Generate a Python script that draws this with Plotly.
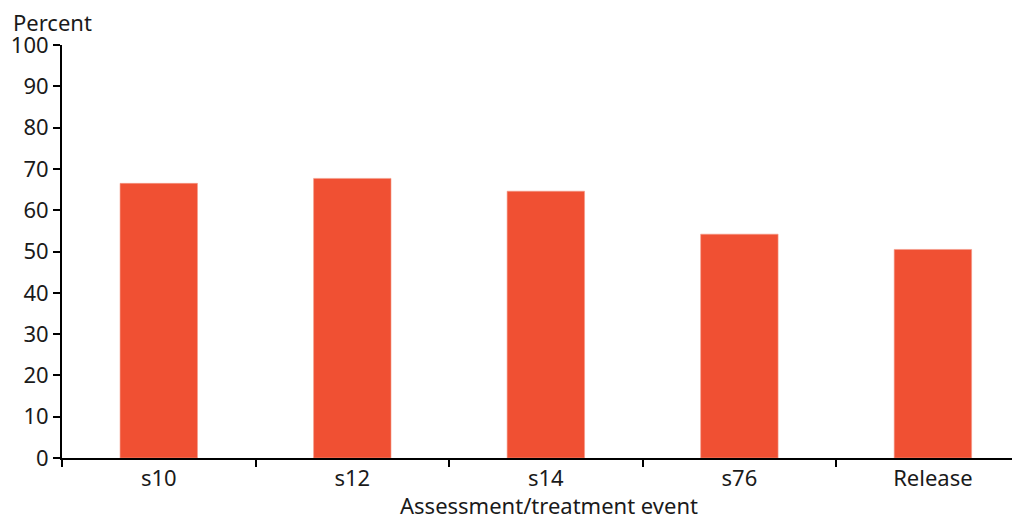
import plotly.graph_objects as go

categories = ["s10", "s12", "s14", "s76", "Release"]
values = [66.5, 67.7, 64.6, 54.2, 50.5]
y_ticks = [0, 10, 20, 30, 40, 50, 60, 70, 80, 90, 100]

fig = go.Figure(go.Bar(
    x=categories, y=values,
    marker=dict(color="#F05033", line=dict(width=0.6, color="#F49A88")),
    hoverinfo="x+y",
))

font = dict(family="Noto Sans, Open Sans, sans-serif", size=22, color="#1a1a1a")

# page body has an 8px default margin; positions below are in figure coordinates
OFF = 8
W, H = 1020 - OFF, 514 - OFF
L, T, B = 62 - OFF, 45 - OFF, 55.5
PW = W - L

fig.update_layout(
    width=W, height=H,
    margin=dict(l=L, r=0, t=T, b=B, pad=0, autoexpand=False),
    paper_bgcolor="white", plot_bgcolor="white",
    bargap=0.6,
    font=font,
    showlegend=False,
    xaxis=dict(
        type="category",
        range=[-0.5, 4.45],
        automargin=False,
        showline=True, linecolor="black", linewidth=2,
        ticks="outside", tickson="boundaries", ticklen=7, tickwidth=1.5, tickcolor="black",
        showgrid=False, zeroline=False,
        tickfont=font,
    ),
    yaxis=dict(
        range=[0, 100],
        automargin=False,
        tickvals=y_ticks,
        showline=True, linecolor="black", linewidth=2,
        ticks="outside", ticklen=7, tickwidth=1.5, tickcolor="black",
        showgrid=False, zeroline=False,
        tickfont=font,
    ),
    annotations=[
        dict(text="Percent", xref="paper", yref="paper", x=(11 - 62) / PW, y=1.0,
             xanchor="left", yanchor="middle", yshift=23, showarrow=False, font=font),
        dict(text="Assessment/treatment event", xref="paper", yref="paper",
             x=(549 - 62) / PW, y=0, xanchor="center", yanchor="middle", yshift=-47,
             showarrow=False, font=font),
    ],
)

fig.write_html("out.html")
